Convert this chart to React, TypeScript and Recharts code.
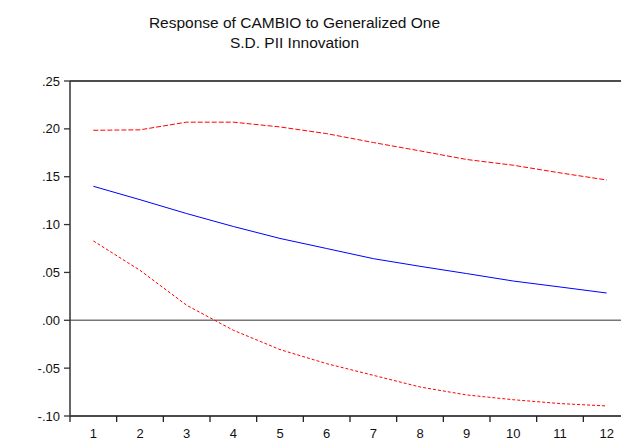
import React from 'react';
import { LineChart, Line, XAxis, YAxis, ReferenceLine } from 'recharts';

// ── Data ──────────────────────────────────────────────────────────────────────
const periods = ['1', '2', '3', '4', '5', '6', '7', '8', '9', '10', '11', '12'];
const response = [0.140, 0.126, 0.1115, 0.098, 0.0855, 0.075, 0.0644, 0.0564, 0.0488, 0.041, 0.0348, 0.0285];
const upperBand = [0.1985, 0.199, 0.207, 0.207, 0.202, 0.195, 0.1857, 0.177, 0.168, 0.162, 0.154, 0.1466];
const lowerBand = [0.0829, 0.0522, 0.0157, -0.0104, -0.0306, -0.0453, -0.0575, -0.0697, -0.078, -0.083, -0.087, -0.0895];
const yTicks = [-0.1, -0.05, 0, 0.05, 0.1, 0.15, 0.2, 0.25];

const rows = periods.map((p, i) => ({
  period: p,
  response: response[i],
  upper: upperBand[i],
  lower: lowerBand[i],
}));

// ── Layout ────────────────────────────────────────────────────────────────────
const CHART_W = 660;
const CHART_H = 441;
const PLOT_LEFT = 70;
const PLOT_RIGHT = 630;
const BAND = (PLOT_RIGHT - PLOT_LEFT) / periods.length;
const FONT = 'Arial, "Liberation Sans", sans-serif';

const fmt = (v: number) => {
  const s = Math.abs(v).toFixed(2).replace(/^0/, '');
  return v < -1e-9 ? `-${s}` : s;
};

// recharts hands us y = axis line + tickSize + tickMargin (6 + 2)
function XTick({ x, y, payload }: any) {
  const axisY = y - 8;
  const left = x - BAND / 2;
  return (
    <g>
      <line x1={left} y1={axisY} x2={left} y2={axisY + 6} stroke="#222" strokeWidth={1.3} />
      <text x={x} y={axisY + 22} textAnchor="middle" fontSize={13} fontFamily={FONT} fill="#111">
        {payload.value}
      </text>
    </g>
  );
}

export default function App() {
  return (
    <div
      style={{
        position: 'fixed',
        left: 0,
        top: 0,
        width: 621,
        height: 441,
        overflow: 'hidden',
        background: '#fff',
      }}
    >
      <div
        style={{
          position: 'absolute',
          left: 0,
          top: 13,
          width: 589,
          textAlign: 'center',
          fontFamily: FONT,
          fontSize: 15.5,
          lineHeight: '20px',
          color: '#111',
        }}
      >
        Response of CAMBIO to Generalized One
        <br />
        S.D. PII Innovation
      </div>
      <LineChart
        width={CHART_W}
        height={CHART_H}
        data={rows}
        margin={{ top: 81, right: CHART_W - PLOT_RIGHT, bottom: 0, left: 0 }}
        style={{ position: 'absolute', left: 0, top: 0 }}
      >
        <XAxis
          dataKey="period"
          height={25}
          padding={{ left: BAND / 2, right: BAND / 2 }}
          tickLine={false}
          axisLine={{ stroke: '#111', strokeWidth: 1.5 }}
          tick={<XTick />}
          interval={0}
        />
        <YAxis
          width={PLOT_LEFT}
          domain={[-0.1, 0.25]}
          ticks={yTicks}
          allowDataOverflow
          tickFormatter={fmt}
          tickSize={6}
          tickMargin={4}
          axisLine={{ stroke: '#333', strokeWidth: 1.5 }}
          tickLine={{ stroke: '#333', strokeWidth: 1.3 }}
          tick={{ fontSize: 13, fontFamily: FONT, fill: '#111' }}
        />
        <ReferenceLine y={0.25} stroke="#111" strokeWidth={1.5} />
        <ReferenceLine y={0} stroke="#777" strokeWidth={1.5} />
        <Line
          type="linear"
          dataKey="upper"
          stroke="#ff0000"
          strokeWidth={1}
          strokeDasharray="5 2"
          dot={false}
          isAnimationActive={false}
        />
        <Line
          type="linear"
          dataKey="lower"
          stroke="#ff0000"
          strokeWidth={1}
          strokeDasharray="3 2"
          dot={false}
          isAnimationActive={false}
        />
        <Line
          type="linear"
          dataKey="response"
          stroke="#0000ff"
          strokeWidth={1}
          dot={false}
          isAnimationActive={false}
        />
      </LineChart>
    </div>
  );
}
